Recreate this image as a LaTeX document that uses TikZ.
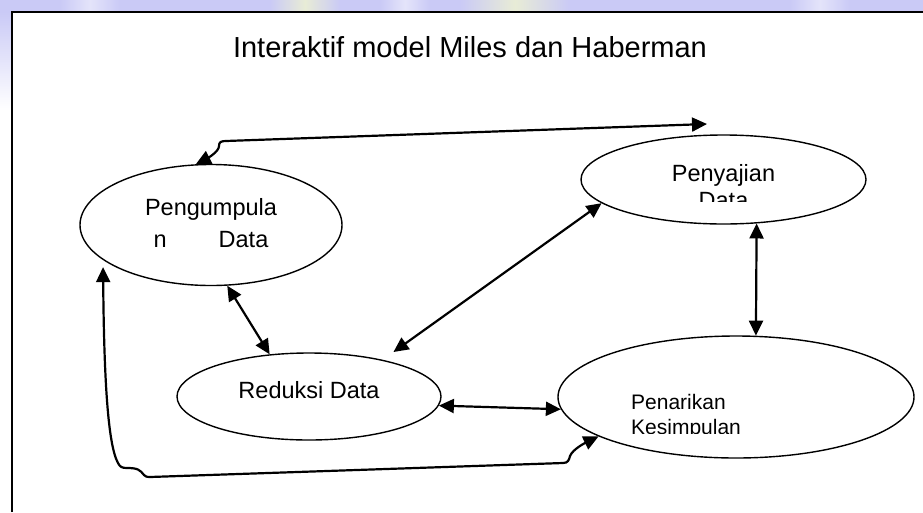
\documentclass[tikz,border=0pt]{standalone}
\usepackage{fontspec}
\setmainfont{Liberation Sans}
\usetikzlibrary{arrows.meta,shapes.geometric}
\definecolor{bgblue}{RGB}{202,202,246}
\definecolor{bglight}{RGB}{228,228,250}
\definecolor{bgyellow}{RGB}{232,236,214}

\begin{document}
\begin{tikzpicture}[x=1pt,y=-1pt,
  stage/.style={draw,ellipse,line width=1.4pt,inner sep=0pt},
  caption/.style={inner sep=0pt,font=\fontsize{23.5}{28}\selectfont},
  link/.style={line width=2.2pt,{Triangle[length=15pt,width=14pt]}-{Triangle[length=15pt,width=14pt]}}]
\useasboundingbox (0,0) rectangle (923,512);
\fill[bgblue] (0,0) rectangle (923,512);
\shade[left color=bgblue,right color=bglight] (60,0) rectangle (90,12);
\shade[left color=bglight,right color=bgblue] (90,0) rectangle (120,12);
\shade[left color=bgblue,right color=bgyellow] (270,0) rectangle (305,12);
\shade[left color=bgyellow,right color=bgblue] (305,0) rectangle (340,12);
\shade[left color=bgblue,right color=bglight] (380,0) rectangle (405,12);
\shade[left color=bglight,right color=bgblue] (405,0) rectangle (430,12);
\shade[left color=bgblue,right color=bgyellow] (460,0) rectangle (515,12);
\shade[left color=bgyellow,right color=bgblue] (515,0) rectangle (570,12);
\shade[left color=bgblue,right color=bglight] (790,0) rectangle (820,12);
\shade[left color=bglight,right color=bgblue] (820,0) rectangle (850,12);
\shade[top color=bgblue,bottom color=white] (0,12) rectangle (12,110);
\fill[white] (0,110) rectangle (12,512);
\fill[white] (12,12) rectangle (923,512);
\draw[line width=1.3pt] (12,512) -- (12,12) -- (923,12);

\node[inner sep=0pt,anchor=base,font=\fontsize{29}{34}\selectfont] (title) at (470,57) {Interaktif model Miles dan Haberman};

\node[stage,minimum width=262,minimum height=121] (pg) at (211,225) {};
\node[stage,minimum width=285,minimum height=89] (pd) at (723.5,179.5) {};
\node[stage,minimum width=264,minimum height=87] (rd) at (309,396.5) {};
\node[stage,minimum width=356,minimum height=122] (pk) at (736,397) {};

\node[caption,anchor=base] (pgline1) at (211,215) {Pengumpula};
\node[caption,anchor=base] (pgline2) at (211,247) {n\hspace{52pt}Data};
\node[caption,anchor=base] (rdline) at (309,398) {Reduksi Data};
\node[caption,anchor=base] (pdline1) at (723.5,181) {Penyajian};
\begin{scope}
\clip (600,150) rectangle (850,201);
\node[caption,anchor=base] (pdline2) at (723.5,208) {Data};
\end{scope}
\node[caption,anchor=base west,font=\fontsize{21}{25}\selectfont] (pkline1) at (631,409) {Penarikan};
\begin{scope}
\clip (600,400) rectangle (850,433);
\node[caption,anchor=base west,font=\fontsize{21}{25}\selectfont] (pkline2) at (631,434) {Kesimpulan};
\end{scope}

\coordinate (topend) at (707,124);

\draw[link] (pg.-75) -- (rd.133);
\draw[link] ([shift={(14,-7)}]rd.28) -- (pd.191);
\draw[link] (pd.-53) -- (pk.72);
\draw[link] (rd.-4) -- (pk.184);
\draw[link] (pg.104) .. controls (206,159) and (219,152) .. (219,146)
  .. controls (219,142) and (221,141) .. (226,141) -- (topend);
\draw[link] ([shift={(0,7)}]pg.198) .. controls (104,380) and (108,445) .. (118,463)
  .. controls (120,467) and (122,468) .. (127,468)
  .. controls (138,468) and (140,470) .. (144,475)
  .. controls (145,476) and (146,477) .. (150,477) -- (563,463)
  .. controls (568,463) and (569,460) .. (570,456)
  .. controls (573,449) and (585,443) .. (pk.196);
\end{tikzpicture}
\end{document}
